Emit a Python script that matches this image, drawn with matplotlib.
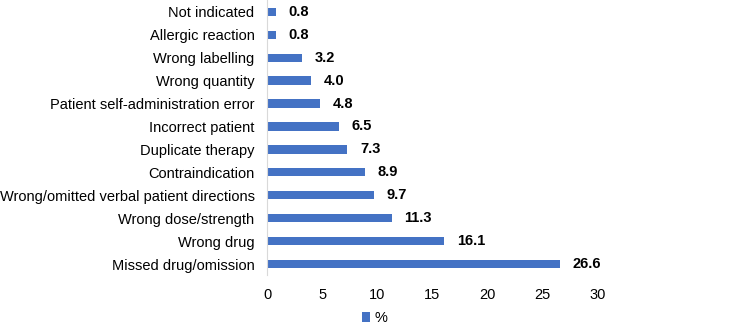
import matplotlib
matplotlib.use("Agg")
import matplotlib.pyplot as plt

categories = ["Missed drug/omission", "Wrong drug", "Wrong dose/strength",
              "Wrong/omitted verbal patient directions", "Contraindication",
              "Duplicate therapy", "Incorrect patient",
              "Patient self-administration error", "Wrong quantity",
              "Wrong labelling", "Allergic reaction", "Not indicated"]
values = [26.6, 16.1, 11.3, 9.7, 8.9, 7.3, 6.5, 4.8, 4.0, 3.2, 0.8, 0.8]
xticks = [0, 5, 10, 15, 20, 25, 30]
series_name = "%"

plt.rcParams["font.family"] = ["Liberation Sans", "DejaVu Sans"]
color = "#4472C4"
fs = 10.5

fig = plt.figure(figsize=(7.49, 3.27), dpi=100)
ax = fig.add_axes([0.3565, 0.1575, 0.4415, 0.8415])
y = list(range(len(categories)))
ax.barh(y, values, height=0.36, color=color, label=series_name)
for yi, v in zip(y, values):
    ax.annotate(f"{v:.1f}", xy=(v, yi), xytext=(9, 0), textcoords="offset points",
                va="center", ha="left", fontsize=fs, fontweight="bold", color="black")
ax.set_yticks(y)
ax.set_yticklabels(categories, fontsize=fs)
ax.set_xticks(xticks)
ax.set_xticklabels([str(t) for t in xticks], fontsize=fs)
ax.set_xlim(0, 30)
ax.set_ylim(-0.5, len(categories) - 0.5)
for s in ["top", "right", "bottom"]:
    ax.spines[s].set_visible(False)
ax.spines["left"].set_color("#D9D9D9")
ax.tick_params(axis="both", length=0)
ax.tick_params(axis="y", pad=9)
ax.tick_params(axis="x", pad=9)
fig.legend(loc="center", bbox_to_anchor=(0.5, 0.027), frameon=False,
           fontsize=fs, handlelength=0.6, handleheight=0.6, handletextpad=0.3)
fig.savefig("out.png", dpi=100)
